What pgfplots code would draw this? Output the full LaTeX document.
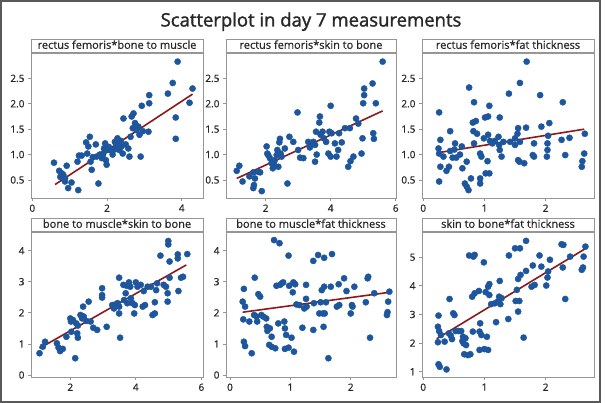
\documentclass[border=0pt]{standalone}
\usepackage{fontspec}
\setmainfont{Open Sans}
\newfontfamily\titlefont[FakeBold=1.6]{Open Sans}
\newfontfamily\stripfont[FakeBold=0.7]{Open Sans}
\usepackage{pgfplots}
\pgfplotsset{compat=1.18}
\definecolor{ptblue}{RGB}{30,86,158}
\definecolor{fitred}{RGB}{140,24,24}
\definecolor{framegray}{RGB}{150,150,150}
\definecolor{txt}{RGB}{40,40,40}
\pgfplotsset{panel/.style={
  scale only axis, anchor=north west, height=145pt,
  axis line style={framegray, line width=0.9pt},
  tick style={framegray, line width=0.7pt},
  tick align=outside, major tick length=3pt, tick pos=left,
  ticklabel style={font=\stripfont\fontsize{10}{12}\selectfont, text=txt},
  /pgf/number format/assume math mode=true,
  every axis title shift=0pt,
  title style={at={(0.5,1)}, anchor=south, draw=framegray, line width=0.9pt, fill=white,
    inner sep=0pt, text height=8.5pt, text depth=2.5pt, minimum height=13.5pt,
    font=\stripfont\fontsize{11}{13}\selectfont, text=txt},
},
pts/.style={only marks, mark=*, mark size=3.1pt, color=ptblue},
fit/.style={fitred, line width=1.6pt},
r1y/.style={ymin=0.145, ymax=3.0, ytick={0.5,1,1.5,2,2.5},
  yticklabel style={/pgf/number format/.cd, fixed, fixed zerofill, precision=1}},
r2y/.style={ymin=-0.064, ymax=4.6, ytick={0,1,2,3,4}},
}
\begin{document}
\begin{tikzpicture}
\useasboundingbox (0,0) rectangle (605pt,403pt);
\draw[gray!70!black, line width=1.4pt] (1pt,1pt) rectangle (600pt,402pt);
\node[anchor=base, font=\titlefont\fontsize{18.5}{22}\selectfont, text=txt] at (311pt,376.5pt) {Scatterplot in day 7 measurements};

% Panel 1
\begin{axis}[panel, r1y, at={(31pt,350pt)}, width=172pt,
  xmin=-0.035, xmax=4.57, xtick={0,2,4},
  title style={minimum width=172pt}, title={rectus femoris*bone to muscle}]
\addplot[pts] coordinates {(0.58,0.84)(0.72,0.68)(0.79,0.63)(0.83,0.60)(0.875,0.53)(0.92,0.78)(0.875,0.47)(0.96,0.34)(1.05,0.45)(1.23,0.30)(1.21,0.86)(1.25,0.98)(1.32,0.98)(1.44,1.24)(1.54,1.35)(1.50,1.16)(1.47,1.02)(1.56,0.86)(1.59,0.70)(1.70,1.20)(1.77,0.43)(1.72,0.96)(1.81,1.0)(1.86,0.93)(1.90,1.02)(1.92,1.12)(1.95,1.22)(1.97,0.89)(1.99,0.80)(2.0,1.09)(2.08,1.09)(2.15,1.0)(2.21,1.25)(2.24,1.16)(2.28,1.32)(2.30,1.22)(2.33,1.09)(2.37,1.27)(2.39,1.16)(2.42,1.02)(2.44,1.71)(2.57,1.12)(2.60,0.96)(2.63,1.35)(2.69,1.52)(2.71,1.81)(2.66,1.75)(2.75,1.62)(2.79,1.48)(2.84,1.55)(2.87,1.39)(2.90,0.96)(2.93,1.96)(2.96,1.46)(3.13,2.17)(3.13,2.01)(3.11,1.45)(3.63,2.20)(3.76,2.41)(3.84,1.73)(3.84,1.31)(3.89,2.83)(4.21,2.02)(4.29,2.30)(1.88,0.97)(2.05,1.15)(2.20,1.10)(1.62,0.95)(2.50,1.20)(0.75,0.56)};
\addplot[fit] coordinates {(0.61,0.41)(4.29,2.19)};
\end{axis}

% Panel 2
\begin{axis}[panel, r1y, at={(226pt,350pt)}, width=170pt,
  xmin=0.78, xmax=6.01, xtick={2,4,6},
  title style={minimum width=170pt}, title={rectus femoris*skin to bone}]
\addplot[pts] coordinates {(1.11,0.68)(1.19,0.78)(1.29,0.47)(1.50,0.57)(1.62,0.65)(1.67,0.53)(1.64,0.40)(1.62,0.34)(1.77,0.66)(1.88,0.28)(1.83,0.65)(2.03,1.16)(2.05,1.02)(2.08,0.99)(2.13,0.93)(2.18,0.83)(2.22,0.73)(2.26,0.80)(2.28,0.89)(2.34,0.99)(2.36,1.09)(2.39,0.76)(2.42,1.24)(2.44,1.31)(2.46,1.02)(2.49,0.96)(2.59,1.12)(2.67,0.43)(2.73,1.35)(2.85,1.25)(2.98,1.83)(3.0,1.09)(3.06,0.94)(3.16,0.93)(3.31,1.25)(3.36,1.14)(3.41,1.22)(3.47,1.25)(3.52,1.19)(3.52,0.86)(3.55,1.45)(3.57,1.0)(3.65,1.63)(3.67,1.75)(3.69,1.39)(3.75,1.45)(3.79,1.32)(3.86,1.25)(3.93,1.02)(3.96,1.45)(4.0,1.96)(4.0,0.96)(4.03,1.42)(4.13,1.22)(4.18,0.96)(4.23,1.09)(4.26,1.42)(4.34,1.24)(4.44,1.52)(4.54,0.76)(4.59,1.52)(4.61,0.87)(4.70,0.96)(4.78,1.71)(4.85,1.61)(4.95,1.02)(4.98,1.32)(5.0,2.01)(5.03,2.30)(5.03,2.17)(5.29,2.40)(5.31,1.42)(5.33,1.31)(5.39,2.01)(5.60,2.83)};
\addplot[fit] coordinates {(1.11,0.53)(5.60,1.86)};
\end{axis}

% Panel 3
\begin{axis}[panel, r1y, at={(422pt,350pt)}, width=172pt,
  xmin=-0.02, xmax=2.79, xtick={0,1,2},
  title style={minimum width=172pt}, title={rectus femoris*fat thickness}]
\addplot[pts] coordinates {(0.26,1.83)(0.26,0.47)(0.25,1.12)(0.26,1.02)(0.28,1.29)(0.28,0.76)(0.33,0.96)(0.38,0.68)(0.42,0.76)(0.44,1.46)(0.44,1.07)(0.48,0.94)(0.51,1.10)(0.52,1.22)(0.54,0.94)(0.60,1.0)(0.63,1.16)(0.64,0.73)(0.68,0.43)(0.71,0.86)(0.71,0.37)(0.74,0.30)(0.75,2.32)(0.78,0.53)(0.81,1.63)(0.82,1.46)(0.83,2.03)(0.83,1.22)(0.86,1.66)(0.88,1.41)(0.93,1.02)(0.93,0.53)(0.93,0.43)(0.95,0.96)(0.99,1.32)(1.01,1.73)(1.02,0.63)(1.05,0.87)(1.06,1.75)(1.06,1.39)(1.08,1.96)(1.08,0.63)(1.09,1.27)(1.13,1.22)(1.17,1.27)(1.23,1.35)(1.24,1.19)(1.25,1.73)(1.25,1.09)(1.28,0.96)(1.31,1.25)(1.40,2.20)(1.42,1.25)(1.50,1.19)(1.50,1.32)(1.54,1.41)(1.55,1.52)(1.55,0.89)(1.57,0.86)(1.58,2.41)(1.58,1.25)(1.65,0.83)(1.68,1.53)(1.69,2.83)(1.81,1.22)(1.79,0.99)(1.81,0.96)(1.91,2.17)(1.93,1.55)(2.02,0.96)(2.03,1.22)(2.03,1.09)(2.04,1.37)(2.06,1.62)(2.26,1.29)(2.28,2.03)(2.32,0.99)(2.39,1.33)(2.59,0.76)(2.60,0.87)(2.63,1.02)(2.64,1.41)};
\addplot[fit] coordinates {(0.26,1.04)(2.63,1.50)};
\end{axis}

% Panel 4
\begin{axis}[panel, r2y, at={(31pt,171pt)}, width=172pt,
  xmin=0.8, xmax=6.05, xtick={2,4,6},
  title style={minimum width=172pt}, title={bone to muscle*skin to bone}]
\addplot[pts] coordinates {(1.06,0.70)(1.16,0.91)(1.23,1.07)(1.59,1.02)(1.64,0.88)(1.69,0.77)(1.77,0.84)(1.88,1.23)(2.0,1.82)(2.02,1.72)(2.03,1.39)(2.08,1.77)(2.15,0.54)(2.18,1.66)(2.21,1.34)(2.23,1.20)(2.23,1.59)(2.31,1.93)(2.36,1.82)(2.39,2.20)(2.41,1.88)(2.49,1.74)(2.56,2.36)(2.62,1.72)(2.70,1.52)(2.82,1.45)(2.97,2.79)(2.97,2.57)(2.97,2.49)(3.11,1.55)(3.28,2.25)(3.33,2.14)(3.38,2.27)(3.44,2.31)(3.49,3.13)(3.49,2.20)(3.52,1.20)(3.49,1.98)(3.62,2.90)(3.64,2.41)(3.69,2.63)(3.72,2.87)(3.74,2.31)(3.79,2.98)(3.83,2.84)(3.85,2.47)(3.90,2.31)(3.95,1.98)(3.97,2.25)(4.0,2.98)(4.05,2.84)(4.15,2.90)(4.21,2.20)(4.24,2.70)(4.28,2.25)(4.36,2.84)(4.46,2.84)(4.51,1.93)(4.58,1.98)(4.58,2.34)(4.62,2.73)(4.65,2.95)(4.75,3.84)(4.85,2.90)(4.92,2.84)(4.97,2.36)(4.97,2.63)(4.99,4.31)(4.99,4.20)(5.03,3.65)(5.03,3.13)(5.28,3.88)(5.28,3.75)(5.30,2.70)(5.38,3.13)(5.44,3.16)(5.57,3.89)};
\addplot[fit] coordinates {(1.06,0.86)(5.54,3.54)};
\end{axis}

% Panel 5
\begin{axis}[panel, r2y, at={(226pt,171pt)}, width=170pt,
  xmin=-0.066, xmax=2.75, xtick={0,1,2},
  title style={minimum width=170pt}, title={bone to muscle*fat thickness}]
\addplot[pts] coordinates {(0.21,2.36)(0.22,1.79)(0.23,2.77)(0.23,1.07)(0.25,2.20)(0.25,0.93)(0.32,1.72)(0.36,0.70)(0.40,1.93)(0.41,3.13)(0.44,1.88)(0.45,1.72)(0.47,2.60)(0.50,2.52)(0.52,1.93)(0.55,1.88)(0.60,1.82)(0.61,1.55)(0.62,1.42)(0.65,0.97)(0.66,1.50)(0.69,1.23)(0.69,0.91)(0.73,4.34)(0.75,0.86)(0.77,2.87)(0.80,1.66)(0.82,4.24)(0.83,2.90)(0.86,2.95)(0.88,2.98)(0.90,1.72)(0.91,1.50)(0.91,0.84)(0.93,1.29)(0.97,3.84)(0.97,0.88)(0.98,2.87)(1.02,1.20)(1.04,2.66)(1.05,2.98)(1.06,0.75)(1.08,2.92)(1.10,2.27)(1.15,2.25)(1.20,1.52)(1.23,2.14)(1.26,2.90)(1.26,2.45)(1.27,2.20)(1.38,1.45)(1.38,3.67)(1.39,2.31)(1.46,3.86)(1.48,1.98)(1.50,2.34)(1.52,2.73)(1.54,1.98)(1.55,1.55)(1.56,3.77)(1.56,2.84)(1.57,1.98)(1.59,2.34)(1.63,0.54)(1.67,2.84)(1.69,3.89)(1.77,2.20)(1.80,2.92)(1.81,2.25)(1.89,3.11)(1.93,2.70)(2.0,1.98)(2.02,2.25)(2.03,2.20)(2.06,2.84)(2.25,2.34)(2.28,3.11)(2.29,3.16)(2.32,1.20)(2.39,2.63)(2.60,1.93)(2.61,2.02)(2.62,2.36)(2.64,2.68)};
\addplot[fit] coordinates {(0.21,2.02)(2.64,2.66)};
\end{axis}

% Panel 6
\begin{axis}[panel, at={(422pt,171pt)}, width=172pt,
  xmin=-0.02, xmax=2.79, xtick={0,1,2},
  ymin=0.815, ymax=5.88, ytick={1,2,3,4,5},
  title style={minimum width=172pt}, title={skin to bone*fat thickness}]
\addplot[pts] coordinates {(0.24,2.03)(0.25,2.96)(0.24,2.57)(0.26,2.42)(0.25,1.26)(0.27,1.17)(0.29,2.28)(0.35,2.05)(0.38,1.08)(0.42,2.34)(0.43,3.54)(0.45,2.26)(0.47,2.14)(0.49,3.04)(0.51,2.98)(0.53,2.42)(0.58,2.42)(0.62,2.42)(0.64,2.07)(0.65,2.22)(0.66,1.99)(0.67,1.61)(0.69,2.17)(0.70,1.93)(0.73,1.58)(0.75,5.06)(0.77,1.61)(0.80,3.62)(0.81,2.40)(0.82,5.02)(0.84,3.74)(0.84,5.08)(0.91,3.82)(0.92,1.76)(0.92,2.40)(0.93,2.69)(0.95,2.28)(0.99,4.82)(1.00,1.79)(1.02,3.78)(1.04,2.22)(1.06,1.76)(1.06,3.97)(1.08,4.06)(1.08,3.68)(1.11,3.36)(1.17,3.39)(1.19,2.73)(1.22,3.45)(1.25,4.17)(1.24,3.62)(1.26,3.36)(1.28,3.57)(1.39,2.84)(1.40,5.06)(1.50,5.31)(1.51,3.47)(1.53,3.86)(1.55,4.24)(1.55,3.10)(1.57,3.47)(1.58,5.31)(1.59,4.38)(1.64,2.19)(1.68,5.57)(1.68,4.52)(1.77,3.97)(1.79,4.71)(1.82,4.03)(1.90,5.06)(1.93,4.67)(2.01,4.01)(2.03,4.29)(2.04,4.50)(2.07,4.91)(2.26,5.45)(2.29,5.43)(2.28,4.64)(2.32,3.54)(2.40,5.02)(2.59,4.56)(2.61,4.64)(2.62,5.02)(2.65,5.37)};
\addplot[fit] coordinates {(0.22,2.15)(2.65,5.30)};
\end{axis}
\end{tikzpicture}
\end{document}
